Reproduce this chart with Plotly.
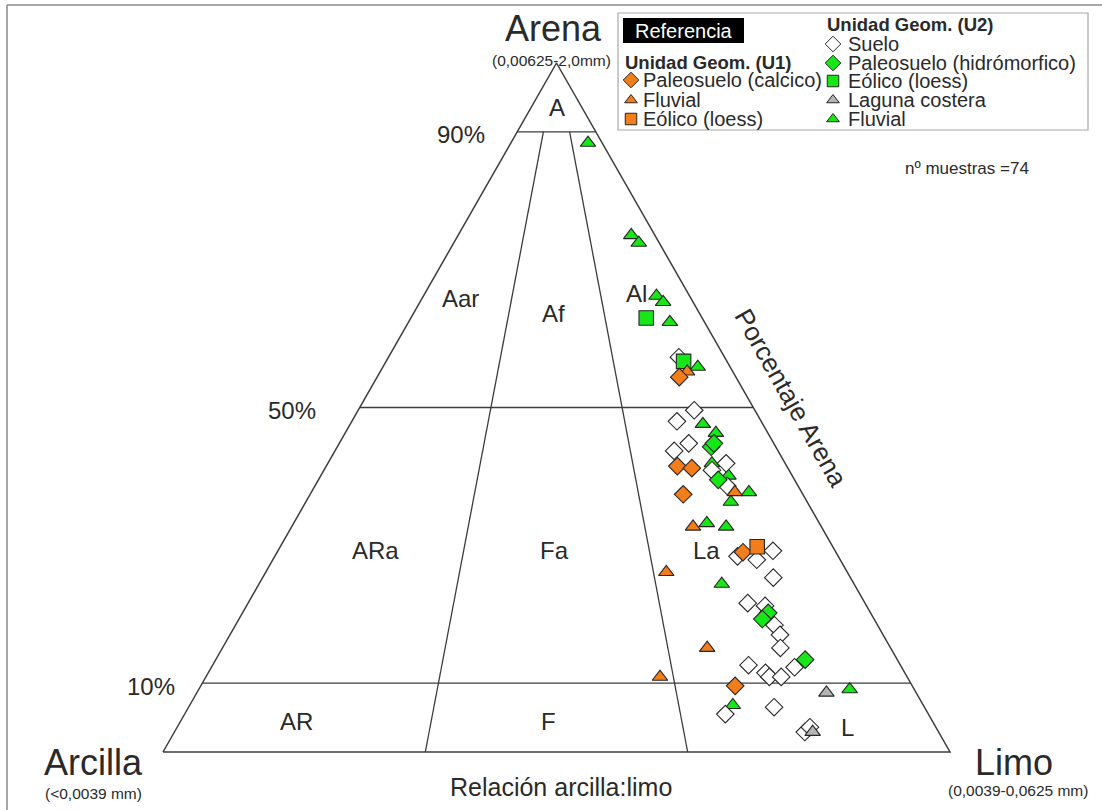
import numpy as np
import plotly.graph_objects as go

# ---------------------------------------------------------------
# Textural data: percentage of sand (arena) and silt (limo);
# clay (arcilla) is the remainder to 100 %.
# ---------------------------------------------------------------
# Unidad Geomorfológica U1
u1_paleo_sand = [54.4, 41.5, 41.2, 37.4, 29.0, 9.6]
u1_paleo_silt = [38.4, 44.6, 46.6, 47.4, 59.2, 67.9]
u1_fluv_sand = [55.2, 37.7, 32.7, 26.1, 15.1, 10.9]
u1_fluv_silt = [39.0, 53.8, 51.0, 50.9, 61.6, 57.7]
u1_eol_sand = [29.8]
u1_eol_silt = [60.6]

# Unidad Geomorfológica U2
u2_suelo_sand = [57.3, 49.6, 48.0, 44.8, 43.7, 41.9, 40.9, 38.6, 29.2, 28.4,
                 27.9, 25.3, 21.6, 21.2, 18.4, 17.0, 15.1, 12.6, 12.3, 11.5,
                 10.9, 10.9, 6.5, 5.5, 2.9, 3.6]
u2_suelo_silt = [36.9, 42.7, 41.3, 44.4, 43.1, 50.6, 49.3, 52.4, 62.9, 58.8,
                 61.5, 64.9, 63.5, 65.9, 68.5, 69.9, 70.9, 68.1, 74.1, 70.8,
                 71.6, 73.1, 74.4, 68.7, 80.1, 80.4]
u2_paleo_sand = [44.3, 44.8, 39.5, 20.2, 19.3, 13.4]
u2_paleo_silt = [47.5, 47.6, 50.8, 66.8, 66.5, 74.9]
u2_eol_sand = [63.0, 56.7]
u2_eol_silt = [29.9, 37.8]
u2_lag_sand = [8.6, 2.9]
u2_lag_silt = [80.0, 81.1]
u2_fluv_sand = [88.4, 75.0, 73.9, 66.2, 65.3, 62.4, 55.9, 47.6, 46.3, 41.9,
                40.1, 37.7, 36.3, 33.2, 32.7, 24.4, 9.1, 6.8]
u2_fluv_silt = [9.8, 22.0, 23.5, 29.6, 30.9, 33.2, 40.0, 44.8, 47.1, 48.8,
                51.8, 55.6, 54.0, 52.5, 55.2, 58.8, 82.7, 69.0]

n_muestras = 74

# Folk (1954) class limits
sand_limits = [10, 50, 90]
clay_silt_splits = [1 / 3, 2 / 3]

# Textural class names: (label, sand %, silt share of mud)
class_names = ["A", "Aar", "Af", "Al", "ARa", "Fa", "La", "AR", "F", "L"]
class_sand = [93.5, 65.8, 63.6, 66.5, 29.2, 29.2, 29.2, 4.4, 4.4, 3.6]
class_share = [0.5, 0.145, 0.491, 0.805, 0.176, 0.496, 0.770, 0.154, 0.489, 0.884]

percent_labels = ["10%", "50%", "90%"]

# ---------------------------------------------------------------
W_PX, H_PX = 1102, 810
X0, BASE, Y0, HGT = 163.0, 787.0, 752.0, 689.0   # triangle frame in px

FONT = "Liberation Sans, Arial, sans-serif"
TXT = "#2a2a2a"
LINE = "#3c3c3c"
ORANGE = "#f27d1a"
GREEN = "#17e617"
GRAY = "#b4b4b4"
EDGE = "#262626"


def tern_xy(sand, silt):
    s = np.asarray(sand, float) / 100.0
    m = np.asarray(silt, float) / 100.0
    return m + s / 2.0, s


def ax_x(px):
    return (px - X0) / BASE


def ax_y(py):
    return (Y0 - py) / HGT


def pap(px, py):
    return px / W_PX, 1 - py / H_PX


fig = go.Figure()

# --- triangle frame and class boundaries ---
fx, fy = [0, 1, 0.5, 0], [0, 0, 1, 0]
fig.add_trace(go.Scatter(x=fx, y=fy, mode="lines",
                         line=dict(color=LINE, width=1.5),
                         hoverinfo="skip", showlegend=False))
for lv in sand_limits:
    s = lv / 100
    fig.add_trace(go.Scatter(x=[s / 2, 1 - s / 2], y=[s, s], mode="lines",
                             line=dict(color=LINE, width=1.3),
                             hoverinfo="skip", showlegend=False))
top = sand_limits[-1] / 100
for r in clay_silt_splits:
    fig.add_trace(go.Scatter(x=[r, top / 2 + r * (1 - top)], y=[0, top],
                             mode="lines", line=dict(color=LINE, width=1.3),
                             hoverinfo="skip", showlegend=False))

# --- samples ---
series = [
    ("U2 Fluvial", u2_fluv_sand, u2_fluv_silt, "triangle-up", GREEN, 13.5),
    ("U2 Suelo", u2_suelo_sand, u2_suelo_silt, "diamond", "white", 13.5),
    ("U2 Paleosuelo", u2_paleo_sand, u2_paleo_silt, "diamond", GREEN, 13.5),
    ("U2 Eolico", u2_eol_sand, u2_eol_silt, "square", GREEN, 14.5),
    ("U2 Laguna", u2_lag_sand, u2_lag_silt, "triangle-up", GRAY, 13.5),
    ("U1 Fluvial", u1_fluv_sand, u1_fluv_silt, "triangle-up", ORANGE, 13.5),
    ("U1 Paleosuelo", u1_paleo_sand, u1_paleo_silt, "diamond", ORANGE, 13.5),
    ("U1 Eolico", u1_eol_sand, u1_eol_silt, "square", ORANGE, 14.5),
]
for name, sd, sl, sym, col, sz in series:
    x, y = tern_xy(sd, sl)
    fig.add_trace(go.Scatter(
        x=x, y=y, mode="markers", name=name, showlegend=False,
        marker=dict(symbol=sym, size=sz, color=col,
                    line=dict(color=EDGE, width=1.1)),
        cliponaxis=False))

annotations = []


def text(px, py, s, size, color=TXT, anchor="center", angle=0, bold=False):
    x, y = pap(px, py)
    annotations.append(dict(
        x=x, y=y, xref="paper", yref="paper", text=f"<b>{s}</b>" if bold else s,
        showarrow=False, xanchor=anchor, yanchor="middle", textangle=angle,
        font=dict(family=FONT, size=size, color=color)))


# class names placed from (sand, silt share)
for lab, s, r in zip(class_names, class_sand, class_share):
    sf = s / 100
    annotations.append(dict(
        x=sf / 2 + r * (1 - sf), y=sf, xref="x", yref="y", text=lab,
        showarrow=False, font=dict(family=FONT, size=24, color=TXT)))

# percent labels next to the left edge
label_gap_px = [25, 42, 30]
for lab, lv, gap in zip(percent_labels, sand_limits, label_gap_px):
    s = lv / 100
    annotations.append(dict(
        x=s / 2 - gap / BASE, y=s, xref="x", yref="y", text=lab,
        showarrow=False, xanchor="right", yanchor="middle", yshift=-3,
        font=dict(family=FONT, size=24, color=TXT)))

# vertex titles
text(553, 29, "Arena", 36)
text(551, 60, "(0,00625-2,0mm)", 15.5)
text(93, 762, "Arcilla", 36)
text(93, 793, "(<0,0039 mm)", 15.5)
text(1014, 762, "Limo", 36)
text(1018, 790, "(0,0039-0,0625 mm)", 15.5)
text(561, 787, "Relación arcilla:limo", 25)
text(791, 398, "Porcentaje Arena", 26, angle=60.3)
text(967, 169, f"nº muestras ={n_muestras}", 17)

# --- outer frame (top and left edges) ---
shapes = [
    dict(type="line", xref="paper", yref="paper",
         x0=7 / W_PX, x1=1.0, y0=1 - 5 / H_PX, y1=1 - 5 / H_PX,
         line=dict(color="#8a8a8a", width=1.5)),
    dict(type="line", xref="paper", yref="paper",
         x0=7 / W_PX, x1=7 / W_PX, y0=1 - 5 / H_PX, y1=0,
         line=dict(color="#8a8a8a", width=1.5)),
]

# --- reference box ---
lx0, ly0 = pap(618, 13)
lx1, ly1 = pap(1088, 130)
shapes.append(dict(type="rect", xref="paper", yref="paper",
                   x0=lx0, x1=lx1, y0=ly1, y1=ly0,
                   line=dict(color="#a8a8a8", width=1.2), fillcolor="white",
                   layer="below"))
bx0, by0 = pap(623, 18)
bx1, by1 = pap(744, 43)
shapes.append(dict(type="rect", xref="paper", yref="paper",
                   x0=bx0, x1=bx1, y0=by1, y1=by0,
                   line=dict(width=0), fillcolor="black"))
text(684, 31, "Referencia", 20, color="white")

text(623, 63, "Unidad Geom. (U1)", 18.5, anchor="left", bold=True)
text(825, 24, "Unidad Geom. (U2)", 18.5, anchor="left", bold=True)

leg_u1 = [("Paleosuelo (calcico)", "diamond", ORANGE, 80),
          ("Fluvial", "triangle-up", ORANGE, 100),
          ("Eólico (loess)", "square", ORANGE, 119)]
leg_u2 = [("Suelo", "diamond", "white", 44),
          ("Paleosuelo (hidrómorfico)", "diamond", GREEN, 63),
          ("Eólico (loess)", "square", GREEN, 81),
          ("Laguna costera", "triangle-up", GRAY, 100),
          ("Fluvial", "triangle-up", GREEN, 119)]

for items, mx, tx in [(leg_u1, 631, 641), (leg_u2, 833, 846)]:
    for lab, sym, col, yy in items:
        sz = {"diamond": 12, "triangle-up": 11, "square": 11.5}[sym]
        fig.add_trace(go.Scatter(
            x=[ax_x(mx)], y=[ax_y(yy)], mode="markers", showlegend=False,
            hoverinfo="skip", cliponaxis=False,
            marker=dict(symbol=sym, size=sz, color=col,
                        line=dict(color=EDGE, width=1))))
        text(tx, yy, lab, 20, anchor="left")

fig.update_layout(
    width=W_PX, height=H_PX,
    margin=dict(l=0, r=0, t=0, b=0),
    paper_bgcolor="white", plot_bgcolor="white",
    showlegend=False,
    xaxis=dict(range=[ax_x(0), ax_x(W_PX)], visible=False, fixedrange=True),
    yaxis=dict(range=[ax_y(H_PX), ax_y(0)], visible=False, fixedrange=True),
    annotations=annotations,
    shapes=shapes,
)

fig.write_html("out.html")
